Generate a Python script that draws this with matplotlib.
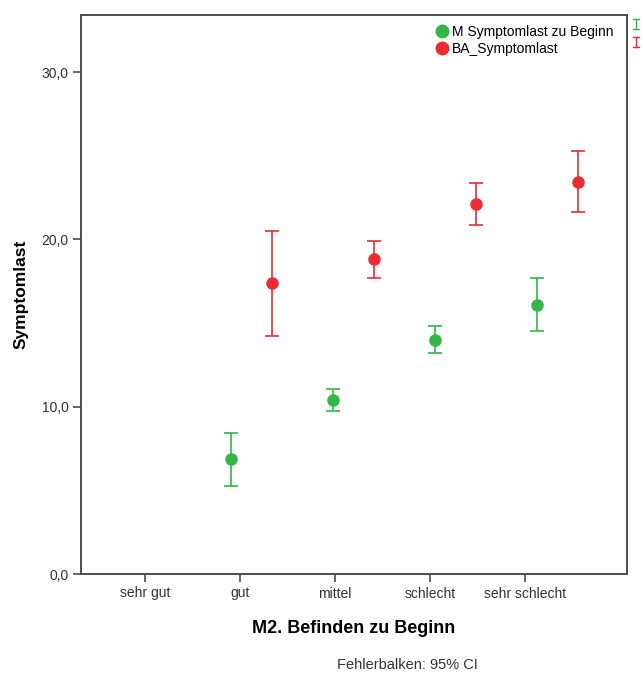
import numpy as np
import matplotlib.pyplot as plt
from matplotlib.lines import Line2D

plt.rcParams['font.family'] = ['Liberation Sans', 'DejaVu Sans']

# Kategorien (M2. Befinden zu Beginn)
categories = ["sehr gut", "gut", "mittel", "schlecht", "sehr schlecht"]

# M Symptomlast zu Beginn: Mittelwert und 95%-KI
m_mean = [np.nan, 6.87, 10.40, 13.99, 16.10]
m_lo = [np.nan, 5.26, 9.74, 13.23, 14.52]
m_hi = [np.nan, 8.43, 11.06, 14.80, 17.69]

# BA_Symptomlast: Mittelwert und 95%-KI
ba_mean = [np.nan, 17.37, 18.81, 22.12, 23.43]
ba_lo = [np.nan, 14.23, 17.71, 20.88, 21.66]
ba_hi = [np.nan, 20.50, 19.92, 23.37, 25.27]

green = "#33b548"
red = "#ec2b33"
axis_col = "#4d4d4d"

fig = plt.figure(figsize=(6.42, 6.75), dpi=100)
ax = fig.add_axes([81 / 642, 1 - 574 / 675, (627 - 81) / 642, (574 - 15) / 675])

idx = np.arange(len(categories))
# SPSS legt die beiden Reihen leicht versetzt uebereinander
x_m = idx * 1.074 - 0.168
x_ba = idx * 1.074 + 0.264


def draw(x, mean, lo, hi, col):
    mean = np.array(mean)
    err = [mean - np.array(lo), np.array(hi) - mean]
    ax.errorbar(x, mean, yerr=err, fmt="none", ecolor=col, elinewidth=1.2,
                capsize=5, capthick=1.2, zorder=2)
    ax.plot(x, mean, "o", color=col, markersize=8, zorder=3)


draw(x_m, m_mean, m_lo, m_hi, green)
draw(x_ba, ba_mean, ba_lo, ba_hi, red)

ax.set_xlim(-0.674, 5.074)
ax.set_ylim(0, 33.41)
ax.set_xticks(idx)
ax.set_xticklabels(categories)
ax.set_yticks([0, 10, 20, 30])
ax.set_yticklabels(["0,0", "10,0", "20,0", "30,0"])

for s in ax.spines.values():
    s.set_color(axis_col)
    s.set_linewidth(1.4)
ax.tick_params(direction="out", length=6, width=1.2, color=axis_col,
               labelsize=10, labelcolor="#333333", pad=3)

ax.set_xlabel("M2. Befinden zu Beginn", fontsize=13, fontweight="bold", labelpad=14)
ax.set_ylabel("Symptomlast", fontsize=12.5, fontweight="bold", labelpad=9)

handles = [
    Line2D([], [], marker="o", linestyle="none", color=green, markersize=9),
    Line2D([], [], marker="o", linestyle="none", color=red, markersize=9),
]
ax.legend(handles, ["M Symptomlast zu Beginn", "BA_Symptomlast"], loc="upper left",
          bbox_to_anchor=(436 / 642, 1 - 25 / 675), bbox_transform=fig.transFigure,
          frameon=False, fontsize=10, handlelength=0.8, handletextpad=0.35,
          labelspacing=0.2, borderpad=0, borderaxespad=0)

# kleine Fehlerbalken-Symbole rechts neben der Legende
for yc, col in [(24, green), (42, red)]:
    x0 = 636 / 642
    y0 = 1 - (yc - 5) / 675
    y1 = 1 - (yc + 5) / 675
    fig.add_artist(Line2D([x0, x0], [y0, y1], color=col, lw=1, transform=fig.transFigure))
    for yy in (y0, y1):
        fig.add_artist(Line2D([x0 - 3 / 642, x0 + 3 / 642], [yy, yy], color=col, lw=1,
                              transform=fig.transFigure))

fig.text(407 / 642, 1 - 665 / 675, "Fehlerbalken: 95% CI", ha="center", va="center",
         fontsize=10.5, color="#333333")

fig.savefig("out.png", dpi=100)
